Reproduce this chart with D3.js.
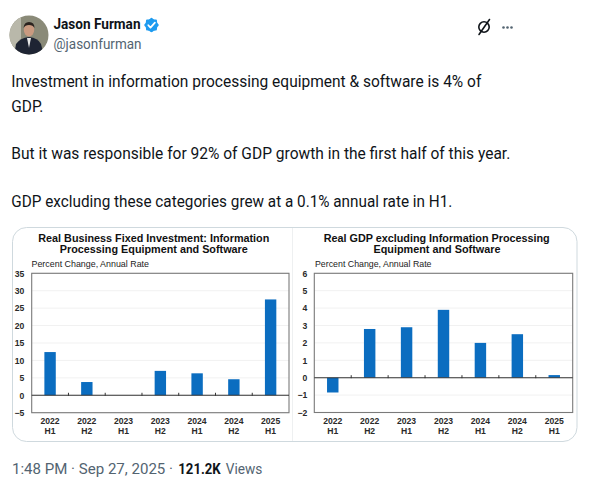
<!DOCTYPE html>
<html><head><meta charset="utf-8">
<script src="https://cdn.jsdelivr.net/npm/d3@7"></script>
<style>
html,body{margin:0;padding:0;background:#fff;}
svg{display:block;}
</style></head>
<body>
<svg id="root" width="589" height="492"></svg>
<script>
// ---- Data ----
const yearLabels = ["2022","2022","2023","2023","2024","2024","2025"];
const halfLabels = ["H1","H2","H1","H2","H1","H2","H1"];
const periods = yearLabels.map((y,i)=>y+" "+halfLabels[i]);
const investmentValues = [12.4, 3.8, 0.0, 7.0, 6.3, 4.6, 27.5];
const gdpExValues = [-0.85, 2.8, 2.9, 3.9, 2.0, 2.5, 0.15];
const leftTicks = [-5,0,5,10,15,20,25,30,35];
const rightTicks = [-2,-1,0,1,2,3,4,5,6];
const leftTitle = ["Real Business Fixed Investment: Information","Processing Equipment and Software"];
const rightTitle = ["Real GDP excluding Information Processing","Equipment and Software"];
const subtitle = "Percent Change, Annual Rate";
const tweetLines = [
  "Investment in information processing equipment & software is 4% of",
  "GDP.",
  "But it was responsible for 92% of GDP growth in the first half of this year.",
  "GDP excluding these categories grew at a 0.1% annual rate in H1."
];
const footerParts = ["1:48 PM · Sep 27, 2025 ·", "121.2K", "Views"];

const svg = d3.select("#root");
svg.append("rect").attr("width",589).attr("height",492).attr("fill","#fff");

const TW = "Roboto, 'Noto Sans', sans-serif";
const AR = "'Liberation Sans', Arial, sans-serif";

function fitText(sel, w){
  const n = sel.node();
  const L = n.getComputedTextLength();
  if (L > 0 && w) sel.attr("textLength", w).attr("lengthAdjust","spacingAndGlyphs");
  return sel;
}

// ---- Header ----
const av = svg.append("g");
av.append("clipPath").attr("id","avc").append("circle").attr("cx",29).attr("cy",35).attr("r",19.5);
const ag = av.append("g").attr("clip-path","url(#avc)");
ag.append("rect").attr("x",9).attr("y",15).attr("width",40).attr("height",40).attr("fill","#8a8a78");
ag.append("rect").attr("x",9).attr("y",15).attr("width",12).attr("height",40).attr("fill","#b9b8aa");
ag.append("path").attr("d","M14,56 L16,44 Q20,38 29,37 Q38,38 41,44 L44,56 Z").attr("fill","#1e2433");
ag.append("path").attr("d","M27,38 L29,48 L31,38 Z").attr("fill","#e8e8e8");
ag.append("ellipse").attr("cx",29).attr("cy",30).attr("rx",5.2).attr("ry",6.5).attr("fill","#c99a80");
ag.append("path").attr("d","M23.5,28 Q24,22 29,22 Q34.5,22 34.5,28 Q33,25 29,25 Q25,25 23.5,28 Z").attr("fill","#2a221e");

fitText(svg.append("text").attr("x",53.5).attr("y",29.3).attr("font-family",TW).attr("font-weight",700)
  .attr("font-size",15).attr("fill","#0f1419").text("Jason Furman"), 87);
const vb = svg.append("g").attr("transform","translate(151.5,25)");
const star = d3.range(16).map(i=>{const a=i*Math.PI/8; const r = i%2?6.2:7.3; return [r*Math.cos(a), r*Math.sin(a)];});
vb.append("path").attr("d", d3.line().curve(d3.curveCardinalClosed)(star)).attr("fill","#1d9bf0");
vb.append("path").attr("d","M-3.2,0.2 L-1,2.6 L3.4,-2.4").attr("fill","none").attr("stroke","#fff").attr("stroke-width",1.7).attr("stroke-linecap","round").attr("stroke-linejoin","round");
fitText(svg.append("text").attr("x",53.5).attr("y",49.2).attr("font-family",TW)
  .attr("font-size",15).attr("fill","#536471").text("@jasonfurman"), 88);
const gk = svg.append("g").attr("transform","translate(484,27)");
gk.append("circle").attr("r",5.2).attr("fill","none").attr("stroke","#0f1419").attr("stroke-width",1.6);
gk.append("line").attr("x1",-5).attr("y1",7.5).attr("x2",5.5).attr("y2",-7.5).attr("stroke","#0f1419").attr("stroke-width",1.6).attr("stroke-linecap","round");
[503.5,507.5,511.5].forEach(x=>svg.append("circle").attr("cx",x).attr("cy",27.5).attr("r",1.3).attr("fill","#536471"));

// ---- Tweet text ----
const tBase = [87.3, 111.7, 159.3, 206.7];
const tW = [470, 32, 499, 441];
tweetLines.forEach((s,i)=>{
  fitText(svg.append("text").attr("x",11.3).attr("y",tBase[i]).attr("font-family",TW)
    .attr("font-size",17).attr("fill","#0f1419").text(s), tW[i]);
});

// ---- Card ----
svg.append("rect").attr("x",12.5).attr("y",227.5).attr("width",564.5).attr("height",214).attr("rx",14)
  .attr("fill","#fff").attr("stroke","#cfd9de").attr("stroke-width",1);
svg.append("line").attr("x1",292.5).attr("x2",292.5).attr("y1",228).attr("y2",441).attr("stroke","#eef0f1");

// ---- Charts ----
function barChart(o){
  const g = svg.append("g");
  const x = d3.scaleBand().domain(periods).range([o.left,o.right]).paddingInner(0.69).paddingOuter(0.345);
  const y = d3.scaleLinear().domain(o.domain).range([o.bottom,o.top]);
  g.selectAll(".grid").data(o.ticks).join("line")
    .attr("x1",o.left).attr("x2",o.right).attr("y1",d=>y(d)).attr("y2",d=>y(d))
    .attr("stroke","#f1f1f1").attr("stroke-width",1);
  g.selectAll(".bar").data(o.values).join("rect")
    .attr("x",(d,i)=>x(periods[i])).attr("width",x.bandwidth())
    .attr("y",d=>y(Math.max(0,d))).attr("height",d=>Math.abs(y(d)-y(0)))
    .attr("fill","#0b6dc0");
  g.append("rect").attr("x",o.left).attr("y",o.top).attr("width",o.right-o.left).attr("height",o.bottom-o.top)
    .attr("fill","none").attr("stroke","#7a7a7a").attr("stroke-width",1.1);
  g.append("line").attr("x1",o.left).attr("x2",o.right).attr("y1",y(0)).attr("y2",y(0))
    .attr("stroke","#333").attr("stroke-width",1.1);
  const step = x.step();
  g.selectAll(".bt").data(d3.range(1,periods.length)).join("line")
    .attr("x1",i=>o.left+i*step).attr("x2",i=>o.left+i*step)
    .attr("y1",y(0)-2.5).attr("y2",y(0)+0.5).attr("stroke","#333").attr("stroke-width",1);
  const ax = g.append("g").attr("transform",`translate(${o.left},0)`)
    .call(d3.axisLeft(y).tickValues(o.ticks).tickSize(0).tickPadding(o.pad));
  ax.select(".domain").remove();
  ax.selectAll("text").attr("font-family",AR).attr("font-size",8.6).attr("font-weight",700).attr("fill","#2a2a2a");
  const xl = g.append("g").attr("font-family",AR).attr("font-size",8.6).attr("font-weight",700).attr("fill","#2a2a2a").attr("text-anchor","middle");
  periods.forEach((p,i)=>{
    const cx = x(p)+x.bandwidth()/2;
    xl.append("text").attr("x",cx).attr("y",424.2).text(yearLabels[i]);
    xl.append("text").attr("x",cx).attr("y",434).text(halfLabels[i]);
  });
  o.title.forEach((t,i)=>{
    fitText(g.append("text").attr("x",o.titleX[i]).attr("y",[241.6,253.2][i]).attr("text-anchor","middle")
      .attr("font-family",AR).attr("font-weight",700).attr("font-size",10.6).attr("fill","#111").text(t), o.titleW[i]);
  });
  fitText(g.append("text").attr("x",o.subX).attr("y",267.4).attr("font-family",AR).attr("font-size",8.4)
    .attr("fill","#222").text(subtitle), o.subW);
}

barChart({left:31.7,right:289,top:273.3,bottom:412.7,domain:[-5,35],ticks:leftTicks,values:investmentValues,pad:7.5,
  title:leftTitle,titleX:[153.8,153.8],titleW:[231,188],subX:31.5,subW:117.5});
barChart({left:314.3,right:572.7,top:273.3,bottom:412.5,domain:[-2,6],ticks:rightTicks,values:gdpExValues,pad:7,
  title:rightTitle,titleX:[436.7,437],titleW:[226,127],subX:315,subW:116.5});

// ---- Footer ----
fitText(svg.append("text").attr("x",12).attr("y",474).attr("font-family",TW).attr("font-size",15)
  .attr("fill","#536471").text(footerParts[0]), 161);
fitText(svg.append("text").attr("x",178.3).attr("y",474).attr("font-family",TW).attr("font-size",15)
  .attr("font-weight",700).attr("fill","#0f1419").text(footerParts[1]), 42.4);
fitText(svg.append("text").attr("x",225.7).attr("y",474).attr("font-family",TW).attr("font-size",15)
  .attr("fill","#536471").text(footerParts[2]), 36.6);
</script>
</body></html>
